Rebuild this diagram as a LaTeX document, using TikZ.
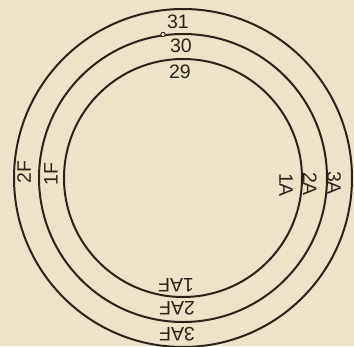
\documentclass[tikz,border=0pt]{standalone}
\usepackage{fontspec}
\setmainfont{Liberation Sans}
\definecolor{paper}{HTML}{EDE3C6}
\definecolor{ink}{HTML}{2A2418}
\begin{document}
\begin{tikzpicture}[x=1pt,y=-1pt,
  ring/.style={draw=ink,line width=2pt},
  lbl/.style={text=ink,inner sep=0pt,font=\fontsize{19.5}{19.5}\selectfont}]
\fill[paper] (0,0) rectangle (354,346);
\useasboundingbox (0,0) rectangle (354,346);
\coordinate (c) at (183,178);
\draw[ring] (c) circle[radius=169];
\draw[ring] (c) circle[radius=144];
\draw[ring] (c) circle[radius=119];
\draw[draw=ink,line width=0.9pt,fill=paper] (163,34.5) circle[radius=2.2];
\node[lbl] (n31) at (178,22) {31};
\node[lbl] (n30) at (181,46) {30};
\node[lbl] (n29) at (180,71.5) {29};
\node[lbl,rotate=90] (n2F) at (24,172) {2F};
\node[lbl,rotate=90] (n1F) at (51,174) {1F};
\node[lbl,rotate=-90] (n1A) at (286,185) {1A};
\node[lbl,rotate=-90] (n2A) at (310,184) {2A};
\node[lbl,rotate=-90] (n3A) at (334,183) {3A};
\node[lbl,rotate=180] (n1AF) at (176,285) {1AF};
\node[lbl,rotate=180] (n2AF) at (177,308) {2AF};
\node[lbl,rotate=180] (n3AF) at (177,334) {3AF};
\end{tikzpicture}
\end{document}
